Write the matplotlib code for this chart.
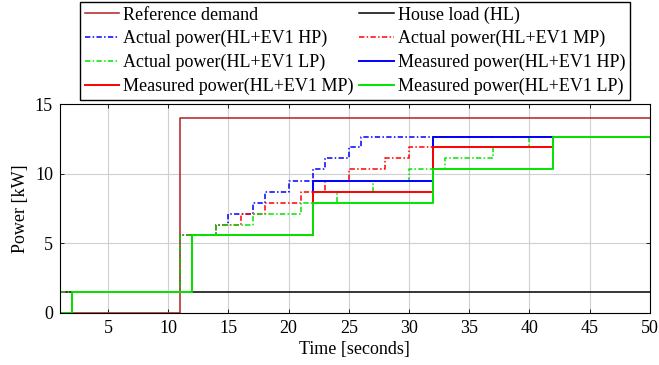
import matplotlib
matplotlib.use("Agg")
import matplotlib.pyplot as plt

# valores (degraus)
ref_t = [1, 11, 50]
ref_p = [0, 14, 14]
house_t = [1, 50]
house_p = [1.5, 1.5]

actual_hp_t = [1, 11, 14, 15, 17, 18, 20, 22, 23, 25, 26, 50]
actual_hp_p = [1.5, 5.6, 6.3, 7.1, 7.9, 8.7, 9.5, 10.3, 11.1, 11.9, 12.6, 12.6]
actual_mp_t = [1, 11, 14, 16, 18, 21, 23, 25, 28, 30, 32, 50]
actual_mp_p = [1.5, 5.6, 6.3, 7.1, 7.9, 8.7, 9.5, 10.3, 11.1, 11.9, 12.6, 12.6]
actual_lp_t = [1, 11, 14, 17, 21, 24, 27, 30, 33, 37, 40, 50]
actual_lp_p = [1.5, 5.6, 6.3, 7.1, 7.9, 8.7, 9.5, 10.3, 11.1, 11.9, 12.6, 12.6]

measured_t = [1, 2, 12, 22, 32, 42, 50]
measured_hp_p = [0, 1.5, 5.6, 9.5, 12.6, 12.6, 12.6]
measured_mp_p = [0, 1.5, 5.6, 8.7, 11.9, 12.6, 12.6]
measured_lp_p = [0, 1.5, 5.6, 7.9, 10.3, 12.6, 12.6]

plt.rcParams["font.family"] = ["Liberation Serif", "DejaVu Serif"]
plt.rcParams["font.size"] = 13

figure = plt.figure(figsize=(6.59, 3.65), dpi=100)
axis = figure.add_axes([0.091, 0.1425, 0.895, 0.5725])

dashdot = (0, (3.5, 1.5, 1, 1.5))
lines = {}
lines["ref"], = axis.plot(ref_t, ref_p, drawstyle="steps-post", color="#b22222",
                          linewidth=1.1, label="Reference demand")
lines["house"], = axis.plot(house_t, house_p, drawstyle="steps-post", color="black",
                            linewidth=1.1, label="House load (HL)")
lines["ahp"], = axis.plot(actual_hp_t, actual_hp_p, drawstyle="steps-post", color="#0000ff",
                          linewidth=1.1, linestyle=dashdot, label="Actual power(HL+EV1 HP)")
lines["amp"], = axis.plot(actual_mp_t, actual_mp_p, drawstyle="steps-post", color="#ff0000",
                          linewidth=1.1, linestyle=dashdot, label="Actual power(HL+EV1 MP)")
lines["alp"], = axis.plot(actual_lp_t, actual_lp_p, drawstyle="steps-post", color="#00e600",
                          linewidth=1.1, linestyle=dashdot, label="Actual power(HL+EV1 LP)")
lines["mhp"], = axis.plot(measured_t, measured_hp_p, drawstyle="steps-post", color="#0000ff",
                          linewidth=1.4, label="Measured power(HL+EV1 HP)")
lines["mmp"], = axis.plot(measured_t, measured_mp_p, drawstyle="steps-post", color="#ff0000",
                          linewidth=1.4, label="Measured power(HL+EV1 MP)")
lines["mlp"], = axis.plot(measured_t, measured_lp_p, drawstyle="steps-post", color="#00e600",
                          linewidth=1.4, label="Measured power(HL+EV1 LP)")

axis.set_xlim(1, 50)
axis.set_ylim(0, 15)
axis.set_xticks(range(5, 51, 5))
axis.set_yticks([0, 5, 10, 15])
axis.grid(True, color="#d0d0d0", linewidth=0.8)
axis.set_axisbelow(True)
axis.tick_params(direction="in", length=3, width=0.6, top=True, right=True, pad=5)
for spine in axis.spines.values():
    spine.set_linewidth(0.8)
axis.set_xlabel("Time [seconds]", labelpad=3)
axis.set_ylabel("Power [kW]", labelpad=4)

# ordem do legend em linhas (2 colunas)
order = ["ref", "ahp", "alp", "mmp", "house", "amp", "mhp", "mlp"]
handles = [lines[key] for key in order]
figure.legend(
    handles,
    [h.get_label() for h in handles],
    loc="upper center",
    bbox_to_anchor=(0.539, 0.995),
    ncol=2,
    frameon=True,
    fancybox=False,
    edgecolor="black",
    framealpha=1,
    fontsize=13,
    handlelength=1.9,
    handletextpad=0.25,
    columnspacing=0.3,
    labelspacing=0.36,
    borderpad=0.25,
    borderaxespad=0,
)

figure.savefig("out.png", dpi=100)
plt.close(figure)
